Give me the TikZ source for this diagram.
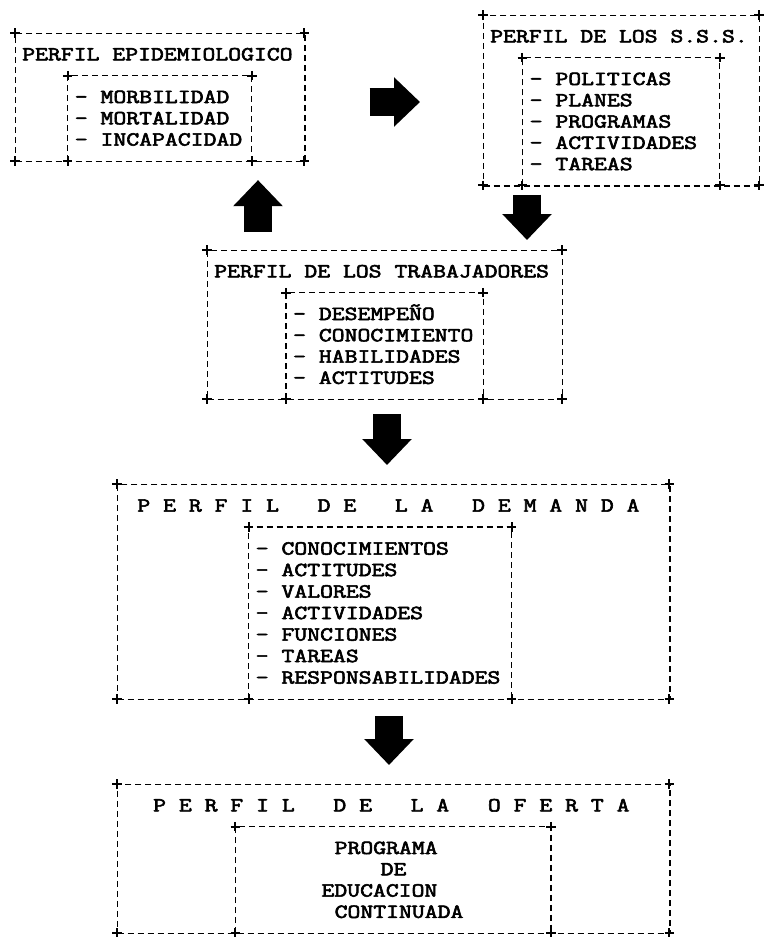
\documentclass[tikz,border=0pt]{standalone}
\usepackage{fontspec}
\newfontfamily\matrixfont{Latin Modern Mono}[FakeBold=2.6]
\usetikzlibrary{arrows.meta}

\begin{document}
\begin{tikzpicture}[
    x=1pt, y=-1pt,
    line width=1.3pt,
    dashline/.style={dash pattern=on 6pt off 4pt},
    frame/.style={draw, dashline, rectangle, inner sep=0pt, anchor=north west},
    plusmark/.style={only marks, mark=+, mark size=4.8pt, mark options={solid, line width=2pt}},
    txt/.style={anchor=base west, inner sep=0pt, yshift=-6.1pt, transform shape, yscale=0.8,
        font=\matrixfont\fontsize{25}{21.3}\selectfont},
    bigarrow/.style={line width=28pt, -{Triangle[length=26pt, width=48pt]}},
]
    \useasboundingbox (0,0) rectangle (763,937);

    % perfil epidemiologico
    \begin{scope}[shift={(15,33)}, x=13.15pt, y=-21.3pt]
        \node[frame, minimum width=22*13.15pt, minimum height=6*21.3pt] (epi) at (0,0) {};
        \draw[dashline] (4,6) |- (18,2) -- (18,6);
        \draw plot[plusmark] coordinates {(0,0) (22,0) (4,2) (18,2) (0,6) (4,6) (18,6) (22,6)};
        \node[txt] (epi-t) at (0.5,1) {PERFIL EPIDEMIOLOGICO};
        \foreach \w [count=\i from 3] in {MORBILIDAD, MORTALIDAD, INCAPACIDAD}
            \node[txt] (epi-\i) at (4.5,\i) {- \w};
    \end{scope}

    % perfil de los s.s.s.
    \begin{scope}[shift={(483,15)}, x=13.15pt, y=-21.3pt]
        \node[frame, minimum width=21*13.15pt, minimum height=8*21.3pt] (sss) at (0,0) {};
        \draw[dashline] (3,8) |- (18,2) -- (18,8);
        \draw plot[plusmark] coordinates {(0,0) (21,0) (3,2) (18,2) (0,8) (3,8) (18,8) (21,8)};
        \node[txt] (sss-t) at (0.5,1) {PERFIL DE LOS S.S.S.};
        \foreach \w [count=\i from 3] in {POLITICAS, PLANES, PROGRAMAS, ACTIVIDADES, TAREAS}
            \node[txt] (sss-\i) at (3.5,\i) {- \w};
    \end{scope}

    % perfil de los trabajadores
    \begin{scope}[shift={(207,250)}, x=13.15pt, y=-21.3pt]
        \node[frame, minimum width=27*13.15pt, minimum height=7*21.3pt] (trab) at (0,0) {};
        \draw[dashline] (6,7) |- (21,2) -- (21,7);
        \draw plot[plusmark] coordinates {(0,0) (27,0) (6,2) (21,2) (0,7) (6,7) (21,7) (27,7)};
        \node[txt] (trab-t) at (0.5,1) {PERFIL DE LOS TRABAJADORES};
        \foreach \w [count=\i from 3] in {DESEMPEÑO, CONOCIMIENTO, HABILIDADES, ACTITUDES}
            \node[txt] (trab-\i) at (6.5,\i) {- \w};
    \end{scope}

    % perfil de la demanda
    \begin{scope}[shift={(117,484)}, x=13.15pt, y=-21.5pt]
        \node[frame, minimum width=42*13.15pt, minimum height=10*21.5pt] (dem) at (0,0) {};
        \draw[dashline] (10,10) |- (30,2) -- (30,10);
        \draw plot[plusmark] coordinates {(0,0) (42,0) (10,2) (30,2) (0,10) (10,10) (30,10) (42,10)};
        \node[txt] (dem-t) at (1.5,1) {P E R F I L ~ D E ~ L A ~ D E M A N D A};
        \foreach \w [count=\i from 3] in {CONOCIMIENTOS, ACTITUDES, VALORES, ACTIVIDADES,
                FUNCIONES, TAREAS, RESPONSABILIDADES}
            \node[txt] (dem-\i) at (10.5,\i) {- \w};
    \end{scope}

    % perfil de la oferta
    \begin{scope}[shift={(117,784)}, x=13.15pt, y=-21.3pt]
        \node[frame, minimum width=42*13.15pt, minimum height=7*21.3pt] (ofe) at (0,0) {};
        \draw[dashline] (9,7) |- (33,2) -- (33,7);
        \draw plot[plusmark] coordinates {(0,0) (42,0) (9,2) (33,2) (0,7) (9,7) (33,7) (42,7)};
        \node[txt] (ofe-t) at (2.7,1) {P E R F I L ~ D E ~ L A ~ O F E R T A};
        \node[txt] (ofe-3) at (16.5,3) {PROGRAMA};
        \node[txt] (ofe-4) at (20,4) {DE};
        \node[txt] (ofe-5) at (15.5,5) {EDUCACION};
        \node[txt] (ofe-6) at (16.5,6) {CONTINUADA};
    \end{scope}

    % flechas
    \draw[bigarrow, shorten <=64pt, shorten >=63pt] (epi.east |- 0,102) -- (sss.west |- 0,102);
    \draw[bigarrow, shorten <=18pt, shorten >=18pt] (trab.north -| 258,0) -- (epi.south -| 258,0);
    \draw[bigarrow, shorten <=8pt, shorten >=10pt] (sss.south -| 527,0) -- (trab.north -| 527,0);
    \draw[bigarrow, shorten <=14pt, shorten >=19pt] (trab.south -| 387,0) -- (dem.north -| 387,0);
    \draw[bigarrow, shorten <=16pt, shorten >=19pt] (dem.south -| 389,0) -- (ofe.north -| 389,0);
\end{tikzpicture}
\end{document}
